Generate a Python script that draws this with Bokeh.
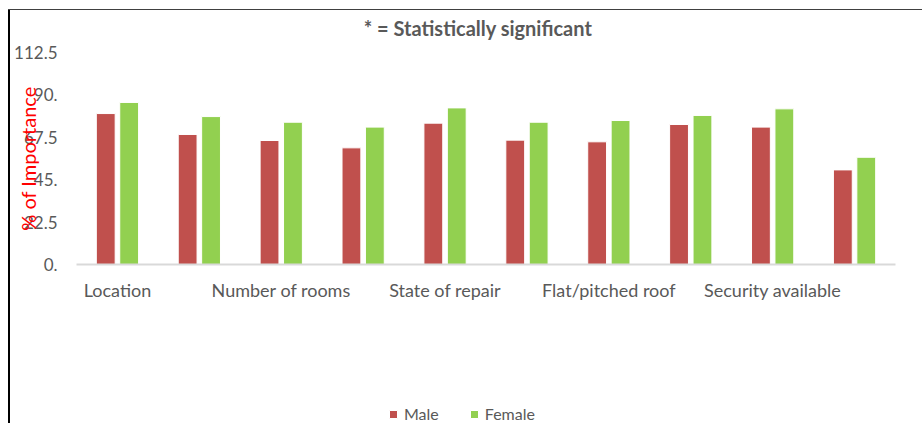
import math
from bokeh.plotting import figure
from bokeh.models import Legend, LegendItem, ColumnDataSource, Range1d
from bokeh.core.properties import value
from bokeh.transform import dodge
from bokeh.embed import file_html
from bokeh.resources import INLINE

# ---- data ----
categories = ["Location", "", "Number of rooms", "", "State of repair", "",
              "Flat/pitched roof", "", "Security available", ""]
male = [80.1, 69.0, 65.8, 61.9, 75.0, 66.0, 65.1, 74.3, 72.9, 50.2]
female = [86.0, 78.5, 75.5, 72.9, 83.1, 75.5, 76.4, 79.1, 82.6, 56.9]
series_names = ["Male", "Female"]
y_ticks = [0, 22.5, 45, 67.5, 90, 112.5]
y_tick_labels = ["0.", "22.5", "45.", "67.5", "90.", "112.5"]
title_text = "* = Statistically significant"
y_label = "% of Importance"

FONT = "Lato"
GRAY = "#595959"

# ---- geometry (pixels) ----
W, H = 914, 423              # drawing area (page x 8..922, y 0..423)
PX_CAT = 81.9                # pixels per category slot
PX_UNIT = 212 / y_ticks[-1]  # pixels per value unit
SLOT_LEFT = 68               # first slot edge, from drawing-area left
BASE = 264                   # value 0, from top

x_start = 0.5 - SLOT_LEFT / PX_CAT
x_end = x_start + W / PX_CAT
y_end = BASE / PX_UNIT
y_start = y_end - H / PX_UNIT

def xdata(px):   # page x -> data x
    return 0.5 + (px - 8 - SLOT_LEFT) / PX_CAT

def ydata(py):   # page y -> data y
    return (BASE - py) / PX_UNIT

xs = list(range(1, len(categories) + 1))
src = ColumnDataSource(dict(x=xs, male=male, female=female))
lab_x = [x for x, c in zip(xs, categories) if c]
lab_t = [c for c in categories if c]

p = figure(frame_width=W, frame_height=H, output_backend="svg", toolbar_location=None,
           x_range=Range1d(x_start, x_end), y_range=Range1d(y_start, y_end),
           x_axis_location=None, y_axis_location=None,
           min_border_left=0, min_border_right=0, min_border_top=0, min_border_bottom=0)
p.border_fill_alpha = 0
p.background_fill_alpha = 0
p.outline_line_color = None
p.grid.visible = False
# chart-area border lines (top and left) drawn behind the transparent canvas
p.styles = {"margin-left": "8px",
            "background-image": "linear-gradient(#404040, #404040), linear-gradient(#000000, #000000)",
            "background-position": "0px 9px, 0px 9px",
            "background-size": "100% 1px, 2px 100%",
            "background-repeat": "no-repeat"}

# bars
r1 = p.vbar(x=dodge("x", -0.143, range=p.x_range), top="male", width=0.23, source=src,
            fill_color="#C0504D", line_color="white", line_width=1)
r2 = p.vbar(x=dodge("x", 0.143, range=p.x_range), top="female", width=0.23, source=src,
            fill_color="#92D050", line_color="white", line_width=1)

# category axis line
p.segment(x0=[xs[0] - 0.5], y0=[y_ticks[0]], x1=[xs[-1] + 0.5], y1=[y_ticks[0]],
          line_color="#D9D9D9", line_width=2)

# category labels
p.text(x=lab_x, y=[ydata(289)] * len(lab_x), text=lab_t,
       text_align="center", text_baseline="middle",
       text_font=value(FONT), text_font_size="18px", text_color=GRAY)

# value tick labels
p.text(x=[xdata(57)] * len(y_ticks), y=y_ticks, text=y_tick_labels,
       text_align="right", text_baseline="middle",
       text_font=value(FONT), text_font_size="17px", text_color=GRAY)

# value axis title
p.text(x=[xdata(27)], y=[y_ticks[-1] / 2], text=[y_label], angle=math.pi / 2,
       text_align="center", text_baseline="middle",
       text_font=value(FONT), text_font_size="20px", text_color="#FF0000")

# chart title
p.text(x=[xdata(477.5)], y=[ydata(27)], text=[title_text],
       text_align="center", text_baseline="middle",
       text_font=value(FONT), text_font_size="20px", text_font_style="bold", text_color=GRAY)

legend = Legend(items=[LegendItem(label=series_names[0], renderers=[r1]),
                       LegendItem(label=series_names[1], renderers=[r2])],
                orientation="horizontal", location=(380, 0),
                glyph_width=10, glyph_height=10, label_standoff=6, spacing=30,
                padding=0, margin=0, border_line_color=None, background_fill_alpha=0,
                label_text_font=FONT, label_text_font_size="16px", label_text_color=GRAY)
p.add_layout(legend, "center")

open("out.html", "w").write(file_html(p, INLINE))
